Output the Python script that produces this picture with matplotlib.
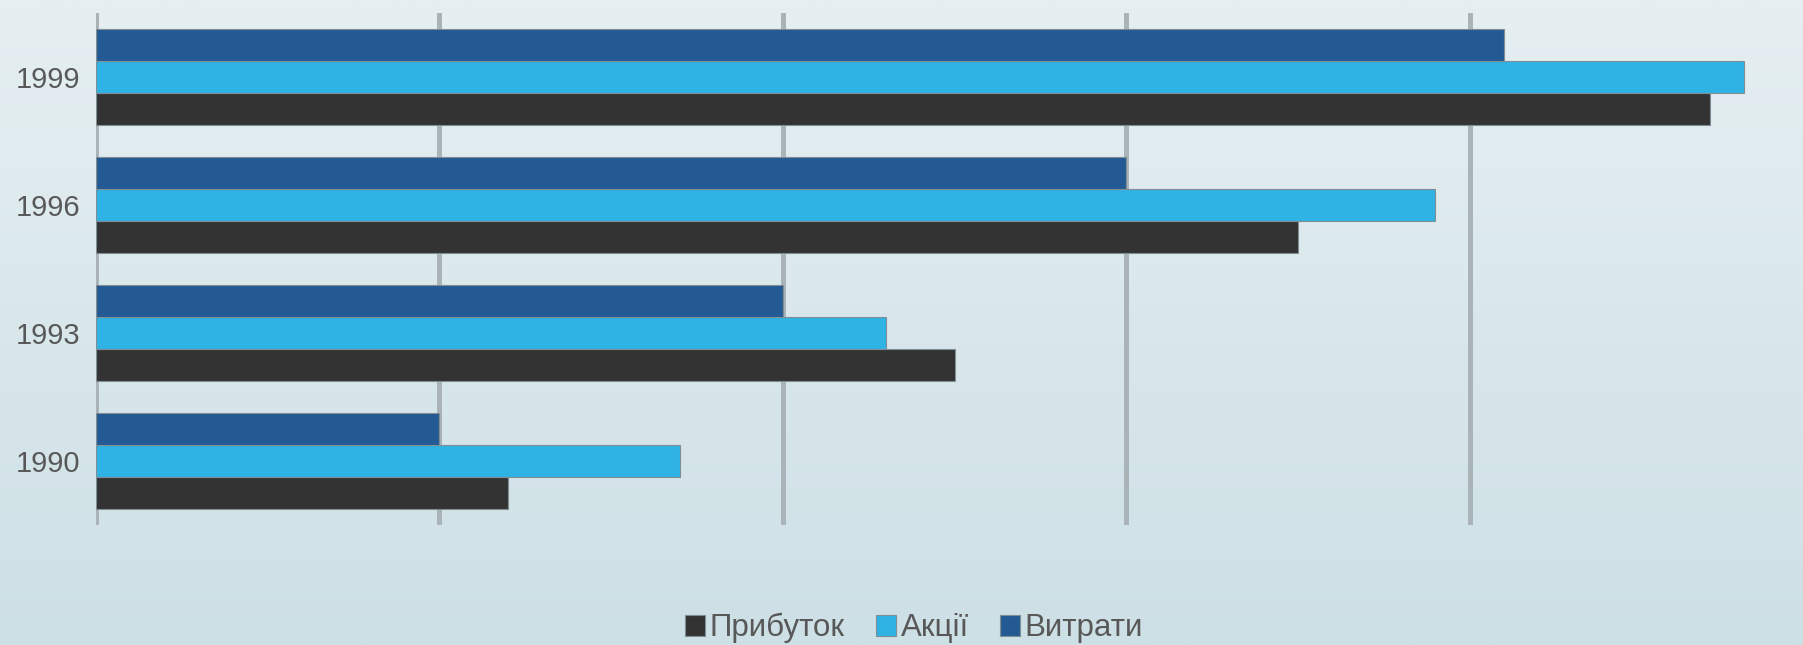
import numpy as np
import matplotlib
matplotlib.use('Agg')
import matplotlib.pyplot as plt
from matplotlib.colors import LinearSegmentedColormap

plt.rcParams['font.family'] = ['Liberation Sans', 'DejaVu Sans']

# дані
years = ['1990', '1993', '1996', '1999']
pributok = [1.2, 2.5, 3.5, 4.7]
aktsii = [1.7, 2.3, 3.9, 4.8]
vytraty = [1.0, 2.0, 3.0, 4.1]
xticks = [0, 1, 2, 3, 4]

W, H, DPI = 1803, 645, 100
fig = plt.figure(figsize=(W / DPI, H / DPI), dpi=DPI)

# фон з градієнтом
bg = fig.add_axes([0, 0, 1, 1], zorder=-10)
grad = np.linspace(0, 1, 256).reshape(-1, 1)
cmap = LinearSegmentedColormap.from_list('bg', ['#e6eff2', '#cde0e6'])
bg.imshow(grad, aspect='auto', cmap=cmap, extent=[0, 1, 0, 1], origin='upper')
bg.axis('off')

ax = fig.add_axes([96 / W, 1 - 525 / H, (W - 96) / W, (525 - 13) / H])
ax.set_facecolor('none')

y = np.arange(len(years))
h = 0.25
edge = '#7f8e94'
ax.barh(y - h, pributok, h, color='#333333', edgecolor=edge, linewidth=0.8, label='Прибуток', zorder=3)
ax.barh(y, aktsii, h, color='#2fb2e4', edgecolor=edge, linewidth=0.8, label='Акції', zorder=3)
ax.barh(y + h, vytraty, h, color='#245a93', edgecolor=edge, linewidth=0.8, label='Витрати', zorder=3)

ax.set_ylim(-0.5, 3.5)
ax.set_xlim(0, (W - 96) / 343.4)
ax.set_xticks(xticks)
ax.set_xticklabels([])
ax.tick_params(axis='x', length=0)
ax.set_yticks(y)
ax.set_yticklabels(years, fontsize=21, color='#585858')
ax.tick_params(axis='y', length=0, pad=11)
ax.grid(axis='x', color='#a9b3b8', linewidth=3.6, zorder=0)
ax.set_axisbelow(True)
for s in ['top', 'right', 'bottom', 'left']:
    ax.spines[s].set_visible(False)

fig.legend(loc='center', bbox_to_anchor=(914 / W, 1 - 628 / H), ncol=3, frameon=False,
           prop={'size': 22.5}, labelcolor='#585858',
           handlelength=0.64, handleheight=0.64, handletextpad=0.15, columnspacing=1.0)

fig.savefig('out.png', dpi=DPI)
